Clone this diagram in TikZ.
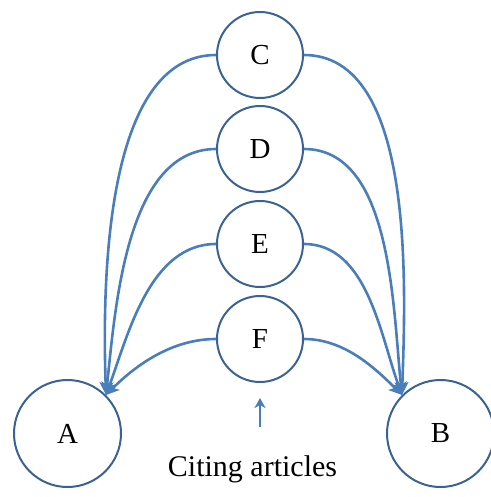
\documentclass[tikz,border=0pt]{standalone}
\usepackage{fontspec}
\setmainfont{Liberation Serif}
\usetikzlibrary{arrows.meta}
\definecolor{curveblue}{HTML}{4A7EBB}
\definecolor{ringblue}{HTML}{3A6394}
\begin{document}
\begin{tikzpicture}[x=1pt,y=-1pt,
  small/.style={circle,draw=ringblue,line width=2pt,minimum size=86pt,inner sep=0pt,font=\fontsize{29}{32}\selectfont},
  big/.style={circle,draw=ringblue,line width=2pt,minimum size=107pt,inner sep=0pt,font=\fontsize{29}{32}\selectfont},
  link/.style={draw=curveblue,line width=2.6pt,-{Stealth[length=13pt,width=12pt,inset=3pt]}}]
\useasboundingbox (0,0) rectangle (490,497);
\node[small] (C) at (260,55) {C};
\node[small] (D) at (260,149) {D};
\node[small] (E) at (260,244) {E};
\node[small] (F) at (260,339) {F};
\node[big] (A) at (67.5,433.5) {A};
\node[big] (B) at (440.5,433.5) {B};
\node[font=\fontsize{30}{32}\selectfont] (T) at (252.5,469) {Citing articles};
\coordinate (t1) at (260,427);
\coordinate (t2) at (260,398);
\draw[link] (C.west) to[out=180,in=92,looseness=0.8] (A.45);
\draw[link] (D.west) to[out=180,in=84,looseness=0.85] (A.45);
\draw[link] (E.west) to[out=180,in=70,looseness=0.9] (A.45);
\draw[link] (F.west) to[out=180,in=45,looseness=0.9] (A.45);
\draw[link] (C.east) to[out=0,in=88,looseness=0.8] (B.135);
\draw[link] (D.east) to[out=0,in=96,looseness=0.85] (B.135);
\draw[link] (E.east) to[out=0,in=110,looseness=0.9] (B.135);
\draw[link] (F.east) to[out=0,in=135,looseness=0.9] (B.135);
\draw[draw=curveblue,line width=2.6pt,-{Stealth[length=10pt,width=11pt,inset=3pt]}] (t1) -- (t2);
\end{tikzpicture}
\end{document}
